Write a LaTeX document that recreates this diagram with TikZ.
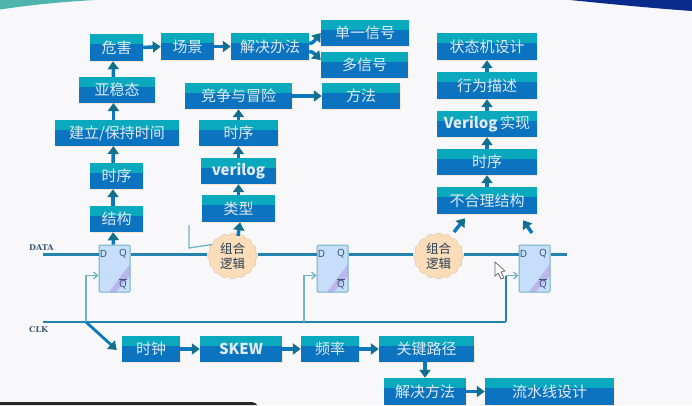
\documentclass[tikz,border=0pt]{standalone}
\usepackage{fontspec}
\setmainfont{Noto Sans}
\newfontfamily\cjk{Noto Sans CJK SC}
\newfontfamily\labf{DejaVu Serif}
\usetikzlibrary{arrows.meta,shapes.symbols,shadows}
\definecolor{pagec}{HTML}{F8F8FA}
\definecolor{bandtop}{HTML}{0BA9BE}
\definecolor{bandlow}{HTML}{0B73BF}
\definecolor{shaftc}{HTML}{0B78BE}
\definecolor{headc}{HTML}{12708C}
\definecolor{thinc}{HTML}{6FB3C4}
\definecolor{wirec}{HTML}{2483AC}
\definecolor{ffc}{HTML}{C6DEFA}
\definecolor{ffp}{HTML}{BDB6EE}
\definecolor{cloudc}{HTML}{FCDDBA}
\definecolor{inkc}{HTML}{3A5675}
\definecolor{boxtxt}{HTML}{DDEBF2}
\definecolor{cornl}{HTML}{4FB3AE}
\definecolor{cornr}{HTML}{0A2A8C}
\tikzset{
  boxnode/.style={rectangle,inner sep=0pt,text=boxtxt,font=\cjk\fontsize{15}{15}\selectfont,
    drop shadow={shadow xshift=0.6pt,shadow yshift=-0.8pt,fill=orange!30,opacity=.6},
    path picture={
      \fill[bandlow] (path picture bounding box.south west) rectangle (path picture bounding box.north east);
      \fill[bandtop] (path picture bounding box.north west) rectangle ([yshift=-10pt]path picture bounding box.north east);
    }},
  flow/.style={line width=3.5pt,-{Triangle[length=8pt,width=11pt,color=headc]},draw=shaftc},
  wire/.style={line width=2.2pt,draw=wirec},
  clkw/.style={line width=1.3pt,draw=thinc},
  clka/.style={line width=1.3pt,draw=thinc,-{Straight Barb[length=4pt,width=7pt]}},
  ffnode/.style={rectangle,rounded corners=1pt,draw=thinc,line width=1pt,fill=ffc,minimum width=31pt,minimum height=47pt,inner sep=0pt,
    path picture={
      \fill[ffp] ([xshift=10pt]path picture bounding box.south west) -- ([xshift=17pt]path picture bounding box.south west) -- ([yshift=16pt]path picture bounding box.south east)-- ([yshift=28pt]path picture bounding box.south east) -- cycle;
    }},
  ffl/.style={text=inkc,font=\fontsize{10}{10}\selectfont,inner sep=0pt},
  cloudn/.style={cloud,cloud puffs=16,cloud puff arc=120,aspect=1.05,fill=cloudc,draw=cloudc!85!black,line width=.3pt,minimum width=50pt,minimum height=46pt,inner sep=0pt,
    align=center,text=inkc!70!black,font=\cjk\fontsize{12.5}{14.5}\selectfont},
  lab/.style={text=inkc,font=\labf\bfseries\fontsize{8}{8}\selectfont,inner sep=0pt}
}
\newcommand{\bx}[6]{\node[boxnode,minimum width={#4-#2},minimum height={#5-#3}] (#1) at ({(#2+#4)/2},{(#3+#5)/2}) {#6};}
\begin{document}
\begin{tikzpicture}[x=1pt,y=-1pt]
\useasboundingbox (0,0) rectangle (692,405);
\fill[pagec] (0,0) rectangle (692,405);
% slide corners
\fill[cornl] (0,0) -- (95,0) .. controls (60,2) and (30,5) .. (0,9.5) -- cycle;
\fill[cornr] (570,0) -- (692,0) -- (692,11) .. controls (650,8) and (610,4) .. (570,0) -- cycle;
\fill[black!85] (0,402) -- (252,402) .. controls (255,402) and (256,404) .. (257,405) -- (0,405) -- cycle;
% boxes
\bx{wh}{90}{34}{143}{61}{危害}
\bx{cj}{161}{33}{214}{60}{场景}
\bx{jj}{231}{33}{309}{60}{解决办法}
\bx{dy}{321}{20}{409}{46}{单一信号}
\bx{dx}{321}{52}{408}{78}{多信号}
\bx{ff}{322}{83}{400}{109}{方法}
\bx{ys}{79}{77}{155}{103}{亚稳态}
\bx{jl}{55}{120}{179}{146}{建立/保持时间}
\bx{sxa}{90}{163}{143}{189}{时序}
\bx{jg}{90}{206}{143}{232}{结构}
\bx{jz}{185}{83}{292}{109}{竞争与冒险}
\bx{sxb}{199}{120}{278}{146}{时序}
\bx{vl}{201}{158}{276}{184}{\bfseries verilog}
\bx{lx}{202}{195}{275}{222}{类型}
\bx{zt}{437}{33}{537}{60}{状态机设计}
\bx{xw}{437}{72}{537}{99}{行为描述}
\bx{vs}{437}{111}{537}{137}{\bfseries Verilog\,\cjk\mdseries 实现}
\bx{sxc}{437}{149}{537}{175}{时序}
\bx{bh}{437}{187}{537}{214}{不合理结构}
\bx{sz}{122}{336}{180}{362}{时钟}
\bx{sk}{200}{336}{282}{362}{\bfseries SKEW}
\bx{pl}{301}{336}{359}{362}{频率}
\bx{gj}{379}{336}{474}{362}{关键路径}
\bx{jf}{384}{378}{466}{405}{解决方法}
\bx{ls}{485}{378}{614}{405}{流水线设计}
% flip-flops
\node[ffnode] (f1) at (114.5,268.5) {};
\node[ffnode] (f2) at (332.5,268.5) {};
\node[ffnode] (f3) at (534.5,268.5) {};
\foreach \f in {f1,f2,f3}{
  \node[ffl] (\f d) at ([xshift=-11pt,yshift=-9pt]\f.north) {D};
  \node[ffl] (\f q) at ([xshift=8.5pt,yshift=-9pt]\f.north) {Q};
  \node[ffl] (\f n) at ([xshift=8.5pt,yshift=8.5pt]\f.south) {$\overline{\mbox{Q}}$};
}
% clouds
\node[cloudn] (c1) at (232.5,256) {组合\\逻辑};
\node[cloudn] (c2) at (438.5,256) {组合\\逻辑};
% named wire ends
\coordinate (dl) at (43,254.5);
\coordinate (dr) at (567,254.5);
\coordinate (cl) at (43,322);
\coordinate (cr) at (506,322);
\coordinate (b1) at (86,322);
\coordinate (b2) at (304,322);
\coordinate (s1) at (189,225);
\coordinate (cur) at (495,262);
% wires
\draw[wire] (dl) -- (f1.west|-dl);
\draw[wire] (f1.east|-dl) -- (c1.west|-dl);
\draw[wire] (c1.east|-dl) -- (f2.west|-dl);
\draw[wire] (f2.east|-dl) -- (c2.west|-dl);
\draw[wire] (c2.east|-dl) -- (f3.west|-dl);
\draw[wire] (f3.east|-dl) -- (dr);
\draw[clkw,draw=wirec,line width=1.7pt,rounded corners=1pt] (cl) -- (cr) -- (506,276);
\draw[clka] (506,275.5) -- (f3.west|-0,275.5);
\draw[clka] (b1) -- (86,275.5) -- (f1.west|-0,275.5);
\draw[clka] (b2) -- (304,275.5) -- (f2.west|-0,275.5);
\draw[clkw] (s1) -- (189,248) -- (c1.150);
% flow arrows
\draw[flow] (wh.east) -- (cj.west);
\draw[flow] (cj.east) -- (jj.west);
\draw[flow,rounded corners=3pt] (jj.east) ++(0,-3) -- ++(3,0) -- (dy.west);
\draw[flow,rounded corners=3pt] (jj.east) ++(0,5) -- ++(3,0) -- ([yshift=5pt]dx.west);
\draw[flow] (jz.east) -- (ff.west);
\draw[flow] ([xshift=-3.5pt]ys.north) -- ([xshift=-3.5pt]wh.south);
\draw[flow] ([xshift=-3.5pt,yshift=0pt]jl.north) -- (113.5,103);
\draw[flow] ([xshift=-3.5pt]sxa.north) -- (113.5,146);
\draw[flow] ([xshift=-3.5pt]jg.north) -- ([xshift=-3.5pt]sxa.south);
\draw[flow] (f1.north) ++(-1,0) -- ([xshift=-3.5pt]jg.south);
\draw[flow] (sxb.north) -- (jz.south-|sxb.north);
\draw[flow] (vl.north) -- (sxb.south);
\draw[flow] (lx.north) -- (vl.south);
\draw[flow] (c1.north) ++(5.5,3) -- ([xshift=1.5pt]lx.south);
\draw[flow] (xw.north) -- (zt.south);
\draw[flow] (vs.north) -- (xw.south);
\draw[flow] (sxc.north) -- (vs.south);
\draw[flow] (bh.north) -- (sxc.south);
\draw[flow] (454,232) -- ([xshift=-22pt,yshift=-4pt]bh.south);
\draw[flow] (532,233) -- ([xshift=36pt,yshift=-6pt]bh.south);
\draw[flow] (sz.east) -- (sk.west);
\draw[flow] (sk.east) -- (pl.west);
\draw[flow] (pl.east) -- (gj.west);
\draw[flow] (gj.south-|jf.north) -- (jf.north);
\draw[flow] (jf.east) -- (ls.west);
\draw[flow,line width=2.8pt] (b1) -- ([xshift=-5pt,yshift=-1pt]sz.west);
% labels
\node[lab,anchor=west] (dtx) at (29,247.5) {DATA};
\node[lab,anchor=west] (ctx) at (29,330) {CLK};
% cursor
\draw[fill=white,draw=black!60,line width=.7pt,fill opacity=.8] (cur) -- (495,276) -- (498,273) -- (501,279) -- (504,278) -- (501,272) -- (505,271) -- cycle;
\end{tikzpicture}
\end{document}
